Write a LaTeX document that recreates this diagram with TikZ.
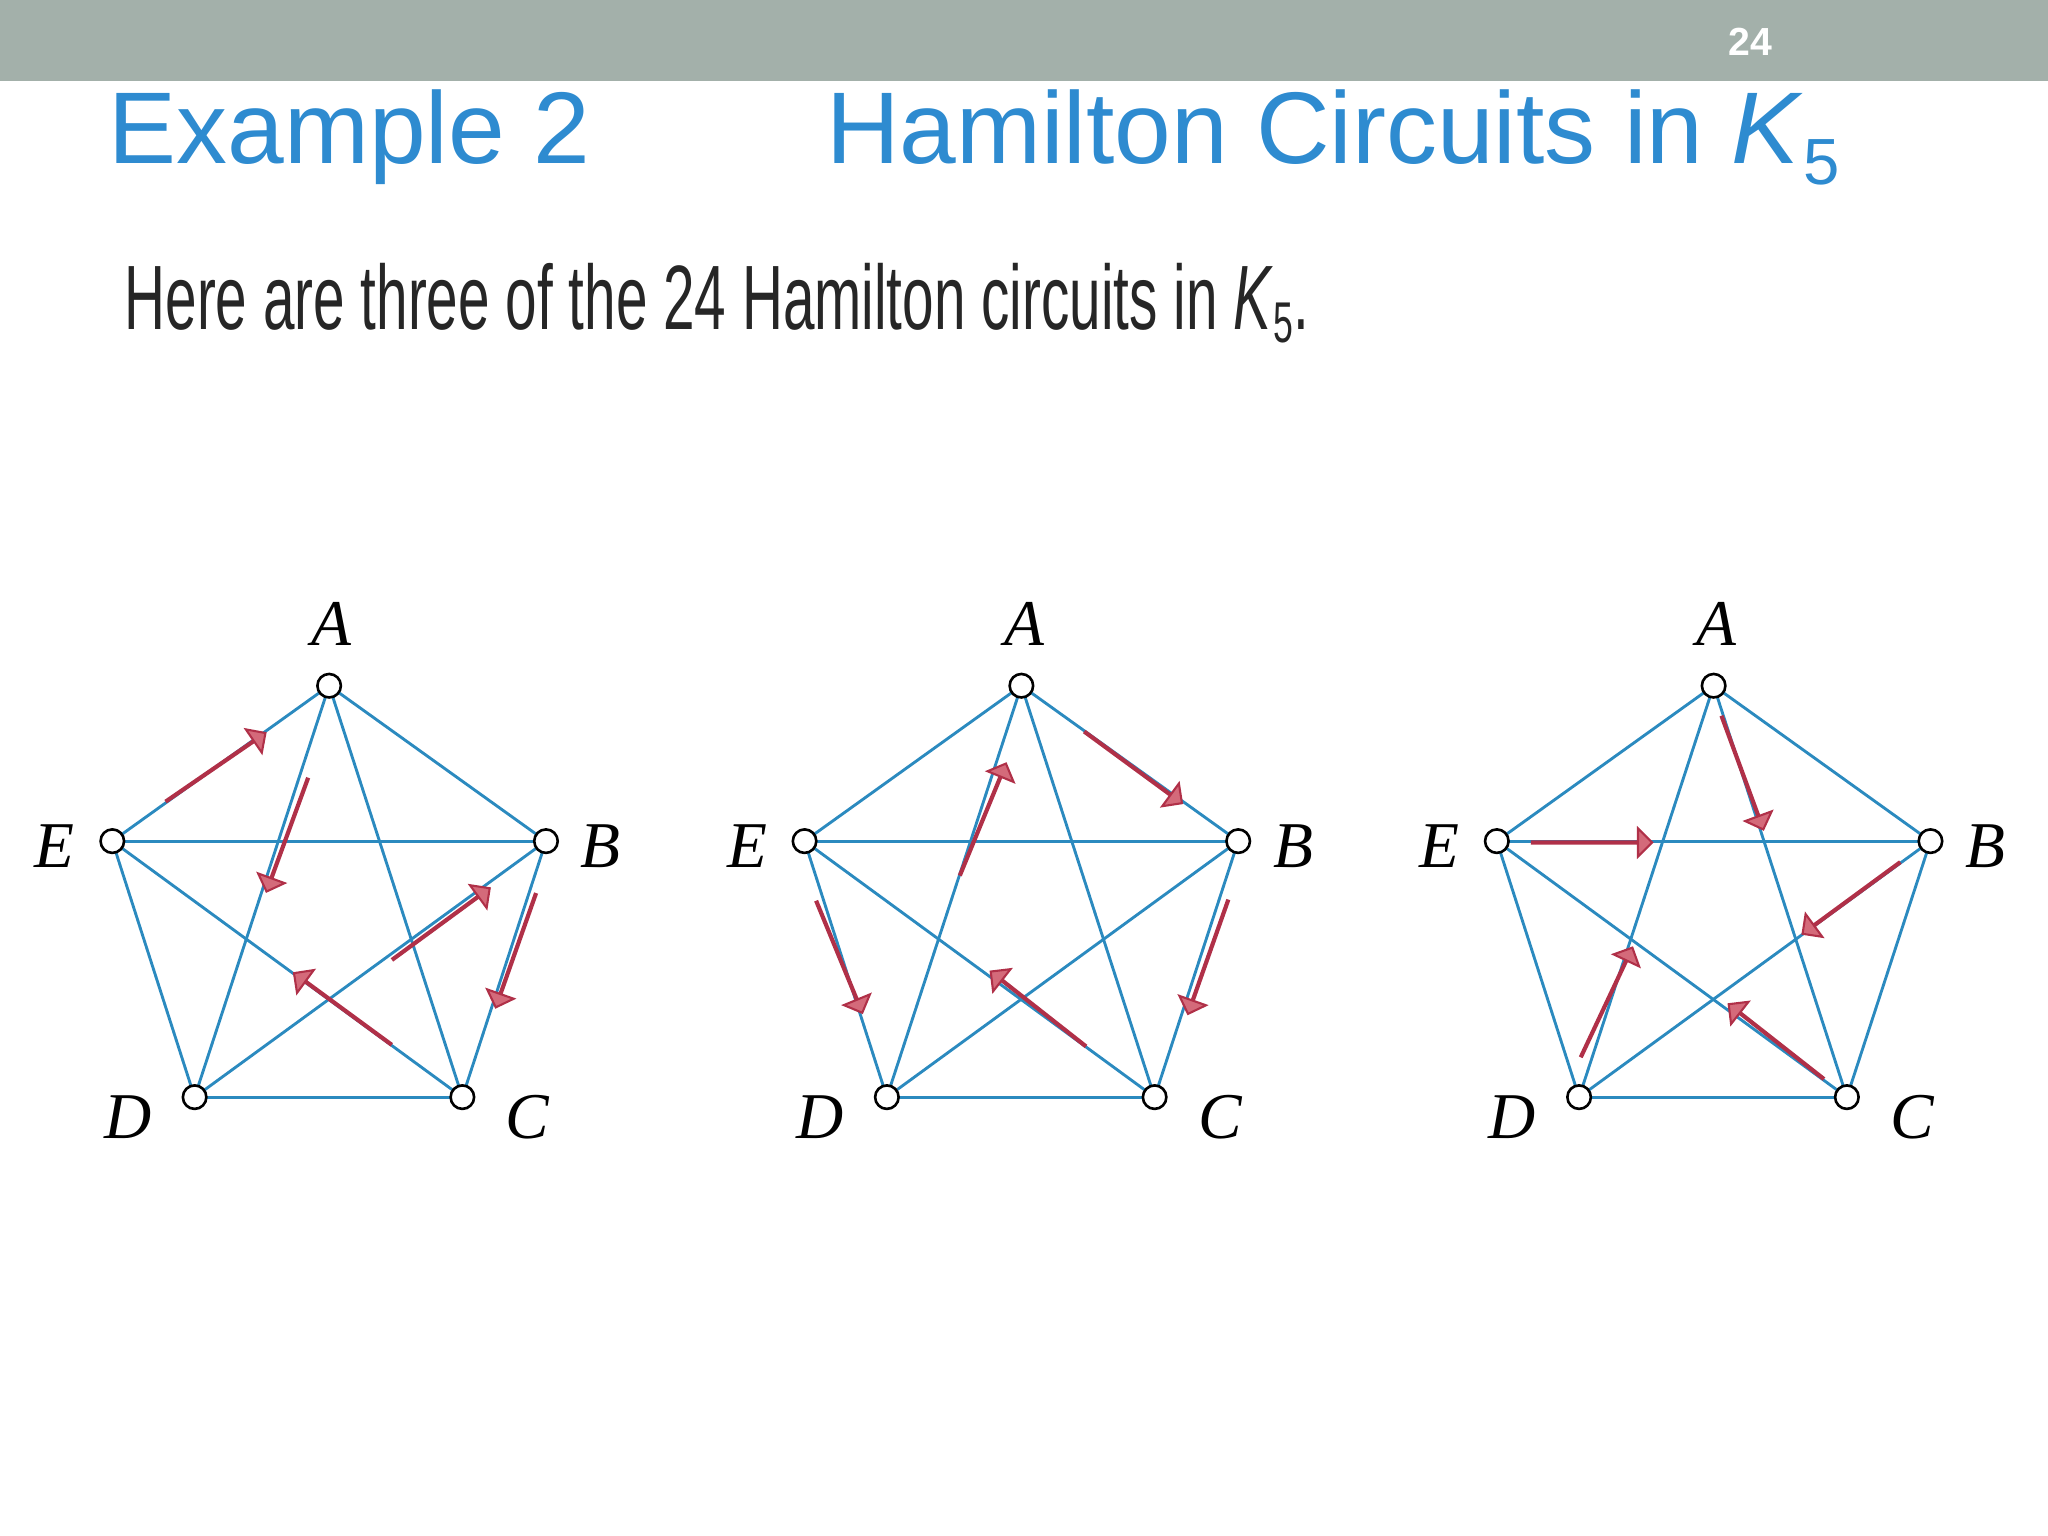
\documentclass[tikz,border=0pt]{standalone}
\usepackage{fontspec}
\setmainfont{Liberation Serif}
\setsansfont{Liberation Sans}
\newfontfamily\narrowfont[FakeStretch=0.62]{Liberation Sans}
\usetikzlibrary{shapes.arrows}
\definecolor{bar}{HTML}{A3B0AA}
\definecolor{ttl}{HTML}{2E8BD0}
\definecolor{edg}{HTML}{2B8ABF}
\definecolor{arf}{HTML}{D46A7A}
\definecolor{ard}{HTML}{B03048}
\tikzset{
  edge/.style={draw=edg,line width=1.1pt},
  vtx/.style={circle,draw=black,fill=white,line width=1pt,minimum size=9pt,inner sep=0pt},
  lbl/.style={font=\fontsize{25}{25}\selectfont\itshape},
  redarrow/.style={single arrow,draw=ard,fill=arf,line width=0.8pt,minimum height=46pt,minimum width=8pt,single arrow head extend=5pt,inner sep=0pt},
}
\newcommand{\kgraph}[2]{%
\begin{scope}[shift={(#1,0)}]
\coordinate (#2A) at (252,525);
\coordinate (#2B) at (418,644);
\coordinate (#2C) at (354,840);
\coordinate (#2D) at (149,840);
\coordinate (#2E) at (86,644);
\foreach \u/\v in {A/B,A/C,A/D,A/E,B/C,B/D,B/E,C/D,C/E,D/E}{\draw[edge] (#2\u) -- (#2\v);}
\foreach \u in {A,B,C,D,E}{\node[vtx] (#2v\u) at (#2\u) {};}
\node[lbl] (#2la) at (254,478) {A};
\node[lbl] (#2lb) at (460,648) {B};
\node[lbl] (#2lc) at (404,855) {C};
\node[lbl] (#2ld) at (98,855) {D};
\node[lbl] (#2le) at (42,648) {E};
\end{scope}}
\newcommand{\rarr}[4]{%
\pgfmathsetmacro{\ang}{atan2(-(#4-#2),#3-#1)}%
\pgfmathsetmacro{\mx}{(#1+#3)/2}%
\pgfmathsetmacro{\my}{(#2+#4)/2}%
\node[redarrow,rotate=\ang] at (\mx,\my) {};}
\begin{document}
\begin{tikzpicture}[x=0.5pt,y=-0.5pt]
\useasboundingbox (0,0) rectangle (1568,1176);
\fill[bar] (0,0) rectangle (1568,62);
\node[text=white,font=\sffamily\bfseries\fontsize{15}{15}\selectfont] (num) at (1340,32) {24};
\node[anchor=base west,text=ttl,font=\sffamily\fontsize{39}{39}\selectfont,inner sep=0] (t1) at (83,125) {Example 2};
\node[anchor=base west,text=ttl,font=\sffamily\fontsize{39}{39}\selectfont,inner sep=0] (t2) at (632,125) {Hamilton Circuits in \textit{K}\raisebox{-8pt}{\fontsize{25}{25}\selectfont 5}};
\node[anchor=base west,text=black!85,font=\narrowfont\fontsize{35}{35}\selectfont,inner sep=0] (sub) at (95,252) {Here are three of the 24 Hamilton circuits in \textit{K}\raisebox{-5pt}{\fontsize{22}{22}\selectfont 5}.};
\kgraph{0}{a}
\kgraph{530}{b}
\kgraph{1060}{c}
% graph 1
\rarr{125}{615}{205}{560}
\rarr{235}{598}{205}{680}
\rarr{300}{735}{375}{680}
\rarr{410}{685}{380}{770}
\rarr{300}{800}{225}{745}
% graph 2
\rarr{830}{560}{905}{615}
\rarr{940}{690}{910}{775}
\rarr{830}{800}{760}{745}
\rarr{625}{690}{660}{775}
\rarr{735}{670}{770}{585}
% graph 3
\rarr{1318}{548}{1350}{635}
\rarr{1395}{825}{1325}{770}
\rarr{1172}{645}{1265}{645}
\rarr{1455}{660}{1380}{715}
\rarr{1210}{810}{1250}{725}
\end{tikzpicture}
\end{document}
